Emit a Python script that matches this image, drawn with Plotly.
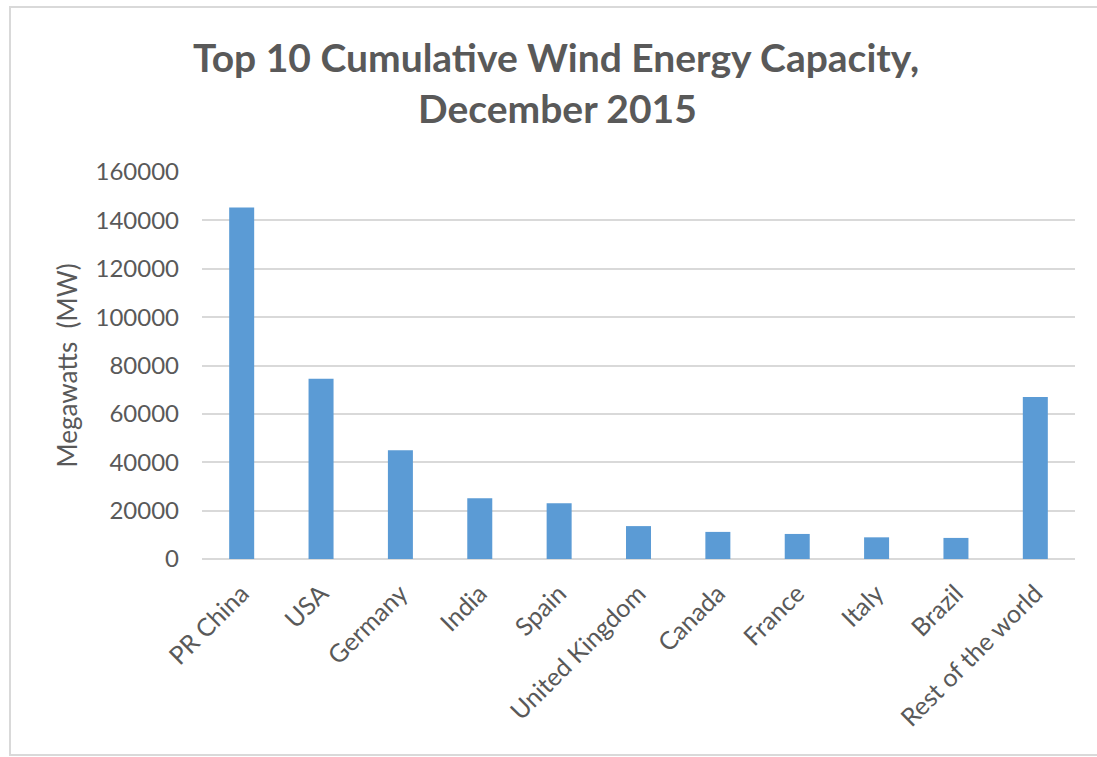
import plotly.graph_objects as go

countries = ["PR China", "USA", "Germany", "India", "Spain", "United Kingdom",
             "Canada", "France", "Italy", "Brazil", "Rest of the world"]
capacity_mw = [145362, 74471, 44947, 25088, 23025, 13603, 11205, 10358, 8958, 8715, 66951]
y_ticks = [0, 20000, 40000, 60000, 80000, 100000, 120000, 140000, 160000]
title_line1 = "Top 10 Cumulative Wind Energy Capacity,"
title_line2 = "December 2015"
y_title = "Megawatts  (MW)"

FONT = "Lato, Carlito, Calibri, sans-serif"
GRAY_TEXT = "#595959"
GRID = "#D9D9D9"

W, H = 1097, 757
L, R, T, B = 202, W - 1075, 172, H - 559
pw, ph = W - L - R, H - T - B

def px(x):
    return (x - L) / pw

def py(y):
    return (H - B - y) / ph

fig = go.Figure(go.Bar(
    x=countries, y=capacity_mw,
    marker=dict(color="#5B9BD5", line=dict(width=0)),
))

fig.update_layout(
    width=W, height=H,
    margin=dict(l=L, r=R, t=T, b=B),
    paper_bgcolor="white", plot_bgcolor="white",
    bargap=0.685,
    showlegend=False,
    font=dict(family=FONT, color=GRAY_TEXT),
    annotations=[
        dict(text=title_line1, x=px(556), y=py(57), xref="paper", yref="paper",
             xanchor="center", yanchor="middle", showarrow=False,
             font=dict(family=FONT, size=39, color=GRAY_TEXT, weight="bold")),
        dict(text=title_line2, x=px(557), y=py(108), xref="paper", yref="paper",
             xanchor="center", yanchor="middle", showarrow=False,
             font=dict(family=FONT, size=39, color=GRAY_TEXT, weight="bold")),
    ],
    shapes=[
        dict(type="rect", xref="paper", yref="paper",
             x0=px(10), x1=px(1110), y0=py(755), y1=py(7),
             line=dict(color=GRID, width=2), fillcolor="rgba(0,0,0,0)", layer="below"),
    ],
)

fig.update_yaxes(
    range=[0, 160000], tickvals=y_ticks, ticktext=[str(v) for v in y_ticks],
    showgrid=True, gridcolor=GRID, gridwidth=1.5,
    zeroline=True, zerolinecolor=GRID, zerolinewidth=1.5,
    showline=False, ticks="",
    tickfont=dict(family=FONT, size=24, color=GRAY_TEXT),
    ticklabelstandoff=22,
    title=dict(text=y_title, font=dict(family=FONT, size=26, color=GRAY_TEXT), standoff=10),
)
fig.update_xaxes(
    tickangle=-45, ticks="", showline=False, showgrid=False,
    tickfont=dict(family=FONT, size=25, color=GRAY_TEXT),
    ticklabelstandoff=14,
)

fig.write_html("out.html")
